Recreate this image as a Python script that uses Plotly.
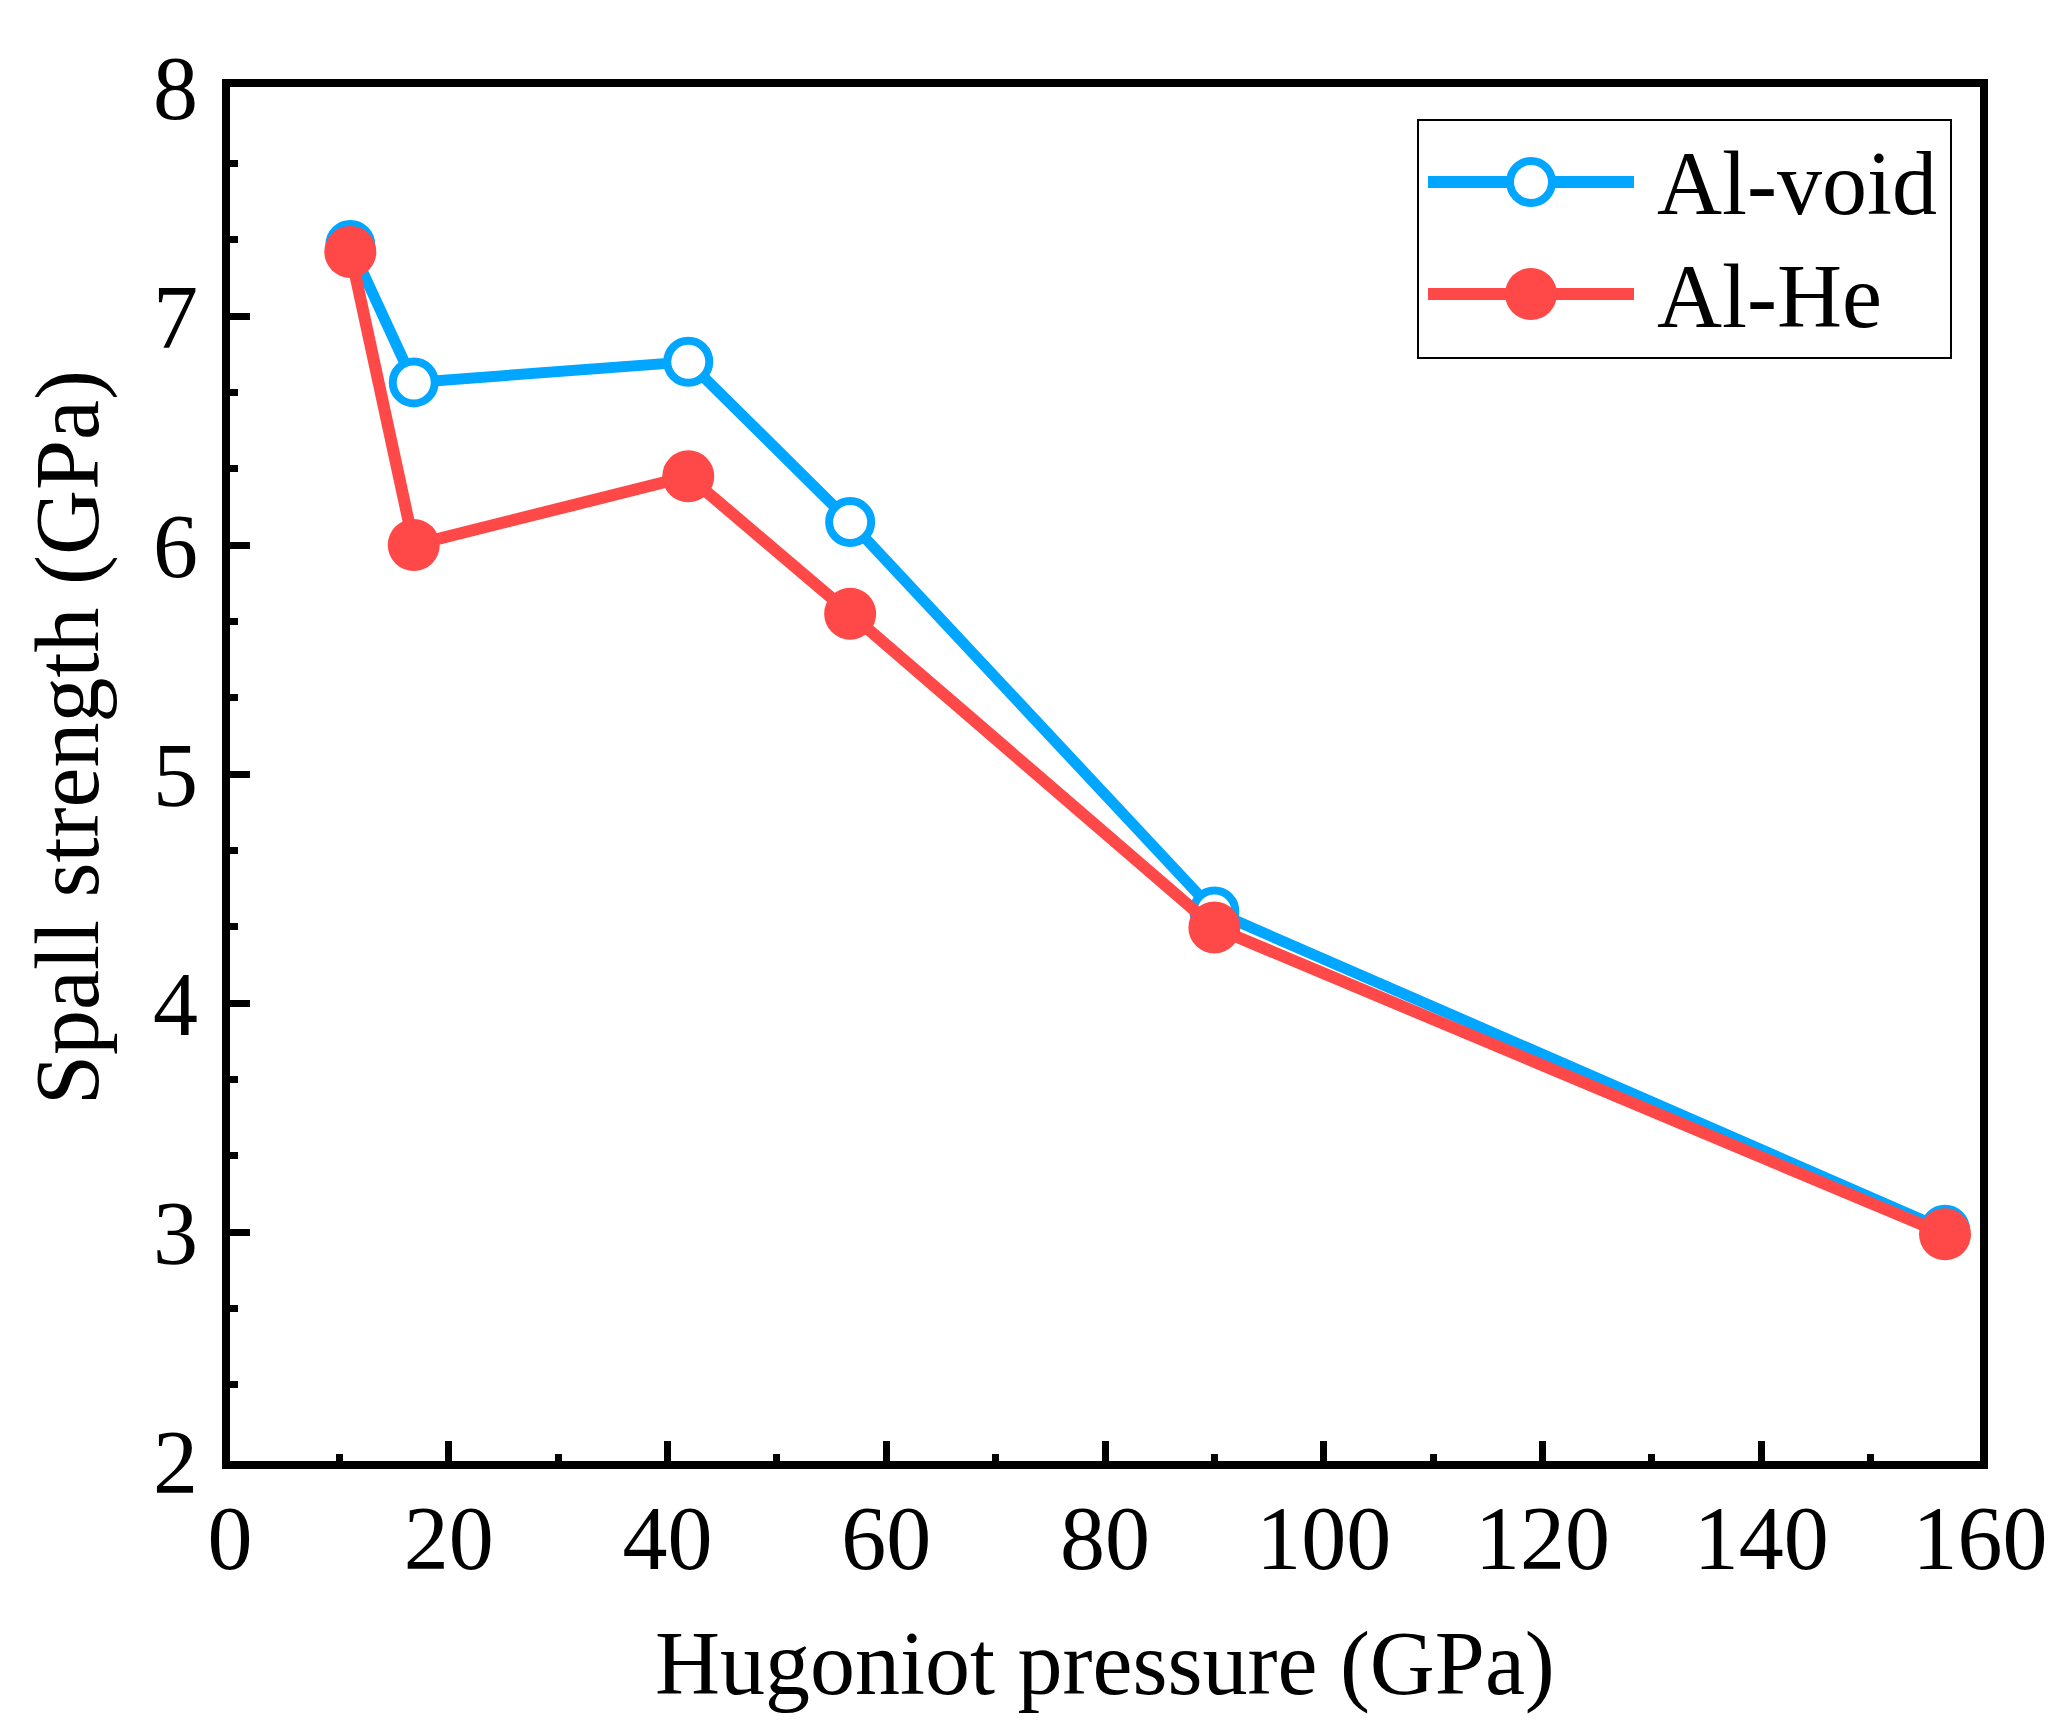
import plotly.graph_objects as go

# data
pressure = [11.0, 16.8, 41.9, 56.7, 90.0, 156.8]
al_void = [7.31, 6.71, 6.80, 6.10, 4.40, 3.01]
al_he = [7.28, 6.00, 6.30, 5.70, 4.33, 2.99]
series_names = ["Al-void", "Al-He"]

BLUE = "#00A6FF"
RED = "#FF4848"
FONT = "Liberation Serif, Times New Roman, serif"

W, H = 2065, 1729
L, R, T, B = 222, 93, 79, 276


def px_x(p):
    return (p - L) / (W - L - R)


def px_y(p):
    return (H - B - p) / (H - T - B)


fig = go.Figure()

fig.add_trace(go.Scatter(
    x=pressure, y=al_void, name=series_names[0],
    mode="lines+markers",
    line=dict(color=BLUE, width=11),
    marker=dict(symbol="circle", size=42, color="white",
                line=dict(color=BLUE, width=8)),
    showlegend=False,
))
fig.add_trace(go.Scatter(
    x=pressure, y=al_he, name=series_names[1],
    mode="lines+markers",
    line=dict(color=RED, width=12),
    marker=dict(symbol="circle", size=52, color=RED, line=dict(width=0)),
    showlegend=False,
))

# hand-made legend (long sample lines like the original)
shapes = [dict(type="rect", xref="paper", yref="paper",
               x0=px_x(1410), x1=px_x(1943), y0=px_y(350), y1=px_y(112),
               line=dict(color="black", width=2), fillcolor="white",
               layer="above")]
annotations = []
legend_rows = [(174, BLUE, False), (286, RED, True)]
for (row_y, col, filled), label in zip(legend_rows, series_names):
    shapes.append(dict(type="line", xref="paper", yref="paper",
                       x0=px_x(1420), x1=px_x(1626),
                       y0=px_y(row_y), y1=px_y(row_y),
                       line=dict(color=col, width=12), layer="above"))
    rad = 26 if filled else 21
    shapes.append(dict(type="circle", xref="paper", yref="paper",
                       x0=px_x(1523 - rad), x1=px_x(1523 + rad),
                       y0=px_y(row_y + rad), y1=px_y(row_y - rad),
                       fillcolor=col if filled else "white",
                       line=dict(color=col, width=0 if filled else 8),
                       layer="above"))
    annotations.append(dict(xref="paper", yref="paper",
                            x=px_x(1647), y=px_y(row_y + 2),
                            xanchor="left", yanchor="middle",
                            text=label, showarrow=False,
                            font=dict(family=FONT, size=90, color="black")))

# axis titles as annotations, placed as in the original
annotations.append(dict(xref="paper", yref="paper",
                        x=px_x(60), y=px_y(730),
                        xanchor="center", yanchor="middle", textangle=-90,
                        text="Spall strength (GPa)", showarrow=False,
                        font=dict(family=FONT, size=90, color="black")))
annotations.append(dict(xref="paper", yref="paper",
                        x=0.5, y=px_y(1656),
                        xanchor="center", yanchor="middle",
                        text="Hugoniot pressure (GPa)", showarrow=False,
                        font=dict(family=FONT, size=90, color="black")))

axis_common = dict(
    showline=True, linecolor="black", linewidth=8, mirror=True,
    showgrid=False, zeroline=False,
    ticks="inside", ticklen=20, tickwidth=7, tickcolor="black",
    tickfont=dict(family=FONT, size=90, color="black"),
)

fig.update_xaxes(
    range=[0, 160], tick0=0, dtick=20,
    minor=dict(dtick=10, ticks="inside", ticklen=7, tickwidth=7,
               tickcolor="black"),
    ticklabelstandoff=-8,
    **axis_common,
)
fig.update_yaxes(
    range=[2, 8], tick0=2, dtick=1,
    minor=dict(dtick=1 / 3, tick0=2, ticks="inside", ticklen=8,
               tickwidth=7, tickcolor="black"),
    ticklabelstandoff=6,
    **axis_common,
)

fig.update_layout(
    width=W, height=H,
    margin=dict(l=L, r=R, t=T, b=B),
    plot_bgcolor="white", paper_bgcolor="white",
    font=dict(family=FONT, size=90, color="black"),
    shapes=shapes, annotations=annotations,
    showlegend=False,
)

fig.write_html("out.html")
